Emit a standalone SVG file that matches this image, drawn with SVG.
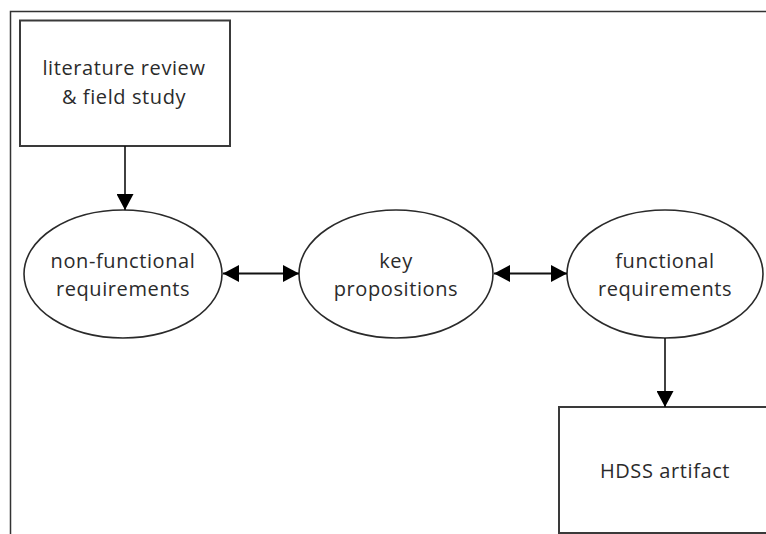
<svg xmlns="http://www.w3.org/2000/svg" width="766" height="534" viewBox="0 0 766 534">
  <defs>
    <style>
      .box { fill: #fff; stroke: #3a3a3a; stroke-width: 2; }
      .ell { fill: #fff; stroke: #2a2a2a; stroke-width: 1.6; }
      .frame { fill: none; stroke: #333; stroke-width: 1.5; }
      .lbl { font-family: "Open Sans", "Noto Sans", "Liberation Sans", sans-serif; font-size: 20px; letter-spacing: 0.6px; fill: #2b2b2b; text-anchor: middle; }
      .conn { stroke: #111; stroke-width: 1.6; fill: none; }
      .dbl { stroke: #111; stroke-width: 2.2; fill: none; }
    </style>
    <marker id="ah" markerUnits="userSpaceOnUse" markerWidth="16" markerHeight="17" refX="16" refY="8.5" orient="auto-start-reverse" viewBox="0 0 16 17">
      <path d="M0,0 L16,8.5 L0,17 z" fill="#000"/>
    </marker>
  </defs>
  <rect width="766" height="534" fill="#fff"/>
  <path class="frame" d="M10.5,534 V11.5 H766"/>

  <g id="literature">
    <rect class="box" x="20" y="20.5" width="210" height="125.5"/>
    <text class="lbl" x="124" y="75">literature review</text>
    <text class="lbl" x="124" y="104">&amp; field study</text>
  </g>

  <g id="nonfunctional">
    <ellipse class="ell" cx="123" cy="274" rx="99" ry="64"/>
    <text class="lbl" x="123" y="268">non-functional</text>
    <text class="lbl" x="123" y="296">requirements</text>
  </g>

  <g id="key">
    <ellipse class="ell" cx="396" cy="274" rx="97" ry="64"/>
    <text class="lbl" x="396" y="268">key</text>
    <text class="lbl" x="396" y="296">propositions</text>
  </g>

  <g id="functional">
    <ellipse class="ell" cx="665" cy="274" rx="98" ry="64"/>
    <text class="lbl" x="665" y="268">functional</text>
    <text class="lbl" x="665" y="296">requirements</text>
  </g>

  <g id="hdss">
    <rect class="box" x="559" y="407" width="220" height="126"/>
    <text class="lbl" x="665" y="478">HDSS artifact</text>
  </g>

  <g id="connectors">
    <line class="conn" x1="125" y1="146" x2="125" y2="210" marker-end="url(#ah)"/>
    <line class="dbl" x1="223" y1="273.5" x2="299" y2="273.5" marker-start="url(#ah)" marker-end="url(#ah)"/>
    <line class="dbl" x1="494" y1="273.5" x2="567" y2="273.5" marker-start="url(#ah)" marker-end="url(#ah)"/>
    <line class="conn" x1="665" y1="338" x2="665" y2="407" marker-end="url(#ah)"/>
  </g>
</svg>
